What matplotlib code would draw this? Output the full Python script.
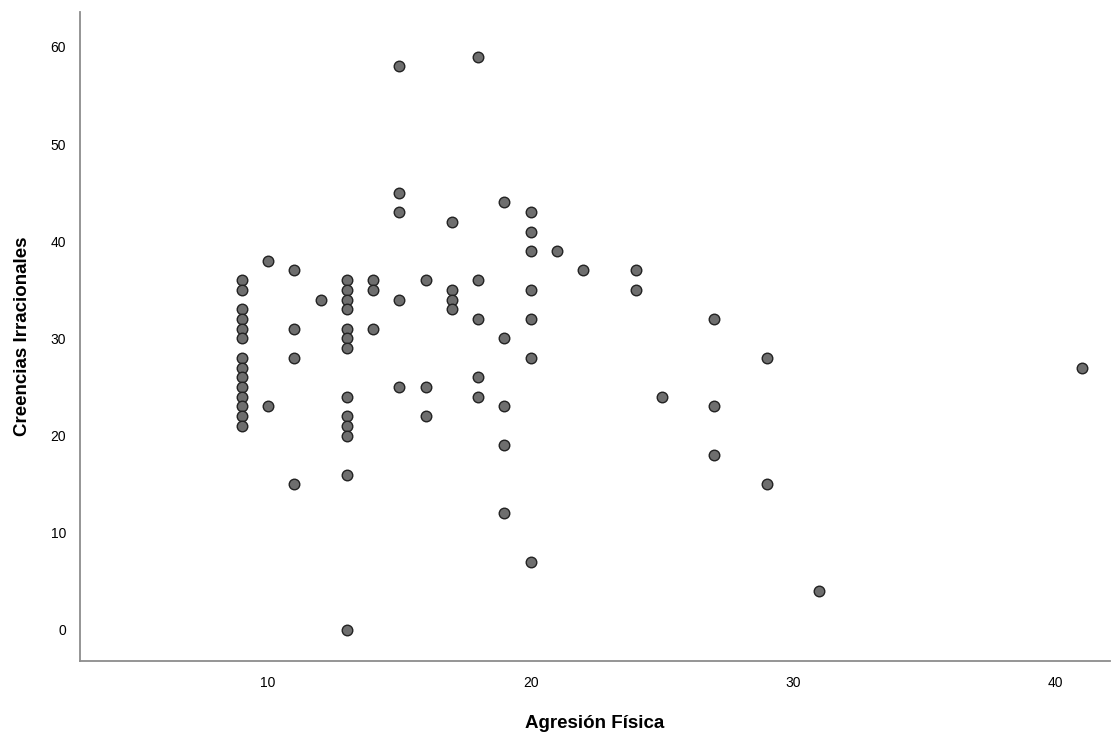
import matplotlib
matplotlib.use("Agg")
import matplotlib.pyplot as plt

# Agresión Física (x) -> Creencias Irracionales (y values)
x_9 = [36, 35, 33, 32, 31, 30, 28, 27, 26, 25, 24, 23, 22, 21]
x_10 = [38, 23]
x_11 = [37, 31, 28, 15]
x_12 = [34]
x_13 = [36, 35, 34, 33, 31, 30, 29, 24, 22, 21, 20, 16, 0]
x_14 = [36, 35, 31]
x_15 = [58, 45, 43, 34, 25]
x_16 = [36, 25, 22]
x_17 = [42, 35, 34, 33]
x_18 = [59, 36, 32, 26, 24]
x_19 = [44, 30, 23, 19, 12]
x_20 = [43, 41, 39, 35, 32, 28, 7]
x_21 = [39]
x_22 = [37]
x_24 = [37, 35]
x_25 = [24]
x_27 = [32, 23, 18]
x_29 = [28, 15]
x_31 = [4]
x_41 = [27]

groups = {9: x_9, 10: x_10, 11: x_11, 12: x_12, 13: x_13, 14: x_14, 15: x_15,
          16: x_16, 17: x_17, 18: x_18, 19: x_19, 20: x_20, 21: x_21, 22: x_22,
          24: x_24, 25: x_25, 27: x_27, 29: x_29, 31: x_31, 41: x_41}

xs, ys = [], []
for k, vals in groups.items():
    for v in vals:
        xs.append(k)
        ys.append(v)

x_ticks = [10, 20, 30, 40]
y_ticks = [0, 10, 20, 30, 40, 50, 60]

plt.rcParams['font.family'] = ['Liberation Sans', 'DejaVu Sans']

fig = plt.figure(figsize=(11.11, 7.35), dpi=100)
ax = fig.add_axes([0.072, 0.1007, 0.927, 0.883])

ax.plot(xs, ys, linestyle='none', marker='o', markersize=7.6,
        markerfacecolor='#6e6e6e', markeredgecolor='#222222', markeredgewidth=1.0)

ax.set_xlim(2.84, 42.06)
ax.set_ylim(-3.19, 63.6)
ax.set_xticks(x_ticks)
ax.set_yticks(y_ticks)
ax.tick_params(axis='both', length=0, labelsize=10, colors='#000000')
ax.tick_params(axis='x', pad=11)
ax.tick_params(axis='y', pad=10)

for s in ['top', 'right']:
    ax.spines[s].set_visible(False)
for s in ['left', 'bottom']:
    ax.spines[s].set_color('#8c8c8c')
    ax.spines[s].set_linewidth(1.3)

ax.set_xlabel('Agresión Física', fontsize=13.5, fontweight='bold', labelpad=18)
ax.set_ylabel('Creencias Irracionales', fontsize=13.5, fontweight='bold', labelpad=14)

fig.savefig('out.png', dpi=100)
